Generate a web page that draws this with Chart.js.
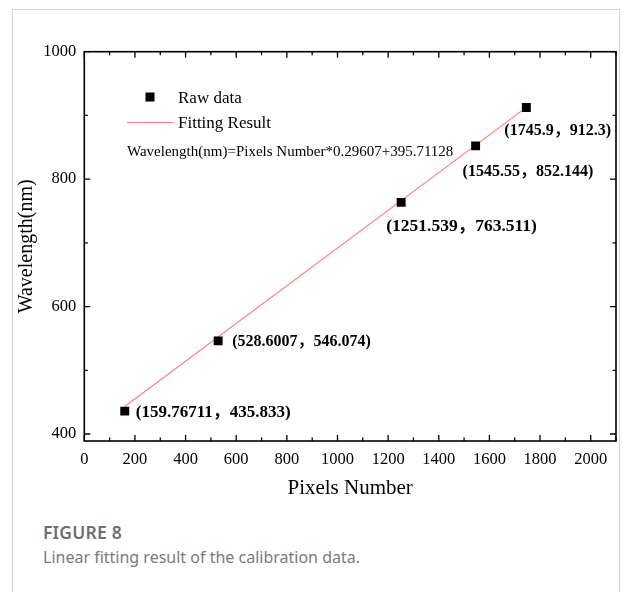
<!DOCTYPE html>
<html>
<head>
<meta charset="utf-8">
<script src="https://cdn.jsdelivr.net/npm/chart.js@4.4.0/dist/chart.umd.min.js"></script>
<style>
  html, body { margin: 0; padding: 0; background: #fff; }
  body { width: 625px; height: 592px; position: relative; overflow: hidden; }
  #card { position: absolute; left: 12px; top: 9px; width: 608px; height: 620px; border: 1px solid #d4d4d4; box-sizing: border-box; }
  #wrap { position: absolute; left: 0; top: 0; width: 625px; height: 510px; }
  #cap1 { position: absolute; left: 43px; top: 520px; font: 600 17.5px 'Noto Sans', 'Open Sans', sans-serif; color: #6e6e6e; letter-spacing: 0.2px; }
  #cap2 { position: absolute; left: 43px; top: 546px; font: 400 16px 'Noto Sans', 'Open Sans', sans-serif; color: #7a7a7a; }
</style>
</head>
<body>
<div id="card"></div>
<div id="wrap"><canvas id="c"></canvas></div>
<div id="cap1">FIGURE 8</div>
<div id="cap2">Linear fitting result of the calibration data.</div>
<script>
// ---- data ----
const pixelsNumber = [159.76711, 528.6007, 1251.539, 1545.55, 1745.9];
const wavelength   = [435.833, 546.074, 763.511, 852.144, 912.3];
const pointLabels  = ['(159.76711，435.833)', '(528.6007，546.074)', '(1251.539，763.511)', '(1545.55，852.144)', '(1745.9，912.3)'];
const fitX = [159.76711, 1745.9];
const fitY = [443.01, 912.62];
const xTicks = [0, 200, 400, 600, 800, 1000, 1200, 1400, 1600, 1800, 2000];
const yTicks = [400, 600, 800, 1000];
const seriesNames = ['Raw data', 'Fitting Result'];
const equationText = 'Wavelength(nm)=Pixels Number*0.29607+395.71128';

const SERIF = "Liberation Serif";
const SERIF_CJK = "'Liberation Serif', 'Noto Sans CJK SC'";

const framePlugin = {
  id: 'frame',
  afterDatasetsDraw(chart) {
    const {ctx, chartArea: a, scales: {x, y}} = chart;
    ctx.save();
    ctx.strokeStyle = '#000';
    ctx.lineWidth = 1.6;
    ctx.strokeRect(a.left, a.top, a.right - a.left, a.bottom - a.top);
    ctx.lineWidth = 1.3;
    ctx.beginPath();
    for (let v = 0; v <= 2100; v += 100) {
      const px = x.getPixelForValue(v);
      const len = (v % 200 === 0) ? 6 : 3.5;
      ctx.moveTo(px, a.bottom); ctx.lineTo(px, a.bottom - len);
      ctx.moveTo(px, a.top); ctx.lineTo(px, a.top + len);
    }
    for (let v = 400; v <= 1000; v += 100) {
      const py = y.getPixelForValue(v);
      const len = (v % 200 === 0) ? 6 : 3.5;
      ctx.moveTo(a.left, py); ctx.lineTo(a.left + len, py);
      ctx.moveTo(a.right, py); ctx.lineTo(a.right - len, py);
    }
    ctx.stroke();

    // legend
    const ds0 = chart.data.datasets[0], ds1 = chart.data.datasets[1];
    ctx.fillStyle = ds0.backgroundColor;
    ctx.fillRect(145.5, 92.5, 9, 9);
    ctx.strokeStyle = ds1.borderColor;
    ctx.lineWidth = ds1.borderWidth;
    ctx.beginPath(); ctx.moveTo(127, 122.5); ctx.lineTo(173, 122.5); ctx.stroke();
    ctx.fillStyle = '#000';
    ctx.textBaseline = 'middle';
    ctx.textAlign = 'left';
    ctx.font = '17px "' + SERIF + '"';
    ctx.fillText(ds0.label, 178, 98.5);
    ctx.fillText(ds1.label, 178, 124);
    ctx.font = '15px "' + SERIF + '"';
    ctx.fillText(equationText, 127, 152);

    // point labels
    const opts = chart.options.plugins.frame;
    const meta = chart.getDatasetMeta(0);
    meta.data.forEach((pt, i) => {
      const o = opts.offsets[i];
      ctx.font = 'bold ' + opts.sizes[i] + 'px ' + SERIF_CJK;
      ctx.fillText(pointLabels[i], pt.x + o[0], pt.y + o[1]);
    });
    ctx.restore();
  }
};

new Chart(document.getElementById('c'), {
  type: 'scatter',
  data: {
    datasets: [
      {
        label: seriesNames[0],
        data: pixelsNumber.map((v, i) => ({x: v, y: wavelength[i]})),
        pointStyle: 'rect',
        pointRadius: 6.3,
        pointHoverRadius: 6.3,
        backgroundColor: '#000',
        borderColor: '#000',
        borderWidth: 0,
        showLine: false
      },
      {
        label: seriesNames[1],
        type: 'line',
        data: fitX.map((v, i) => ({x: v, y: fitY[i]})),
        borderColor: '#ff7f7f',
        borderWidth: 1.2,
        pointRadius: 0,
        fill: false,
        showLine: true
      }
    ]
  },
  options: {
    responsive: true,
    maintainAspectRatio: false,
    animation: false,
    layout: { padding: { top: 51.7, right: 9, left: 0, bottom: 0 } },
    plugins: {
      legend: { display: false },
      tooltip: { enabled: false },
      frame: {
        offsets: [[11, 1], [14, 1], [-15, 24], [-13, 26], [-22, 23]],
        sizes: [17, 16, 17.5, 16, 16]
      }
    },
    scales: {
      x: {
        type: 'linear',
        min: 0, max: 2100,
        afterBuildTicks: s => { s.ticks = xTicks.map(v => ({value: v})); },
        afterFit: s => { s.height = 69; },
        grid: { display: false, drawTicks: false },
        border: { display: false },
        ticks: { font: { family: SERIF, size: 16.5 }, color: '#000', padding: 9, maxRotation: 0, autoSkip: false, callback: v => String(v) },
        title: { display: true, text: 'Pixels Number', font: { family: SERIF, size: 21 }, color: '#000', padding: { top: 0, bottom: 9 } }
      },
      y: {
        type: 'linear',
        min: 389, max: 1000,
        afterBuildTicks: s => { s.ticks = yTicks.map(v => ({value: v})); },
        afterFit: s => { s.width = 84.3; },
        grid: { display: false, drawTicks: false },
        border: { display: false },
        ticks: { font: { family: SERIF, size: 16.5 }, color: '#000', padding: 8, autoSkip: false, callback: v => String(v) },
        title: { display: true, text: 'Wavelength(nm)', font: { family: SERIF, size: 20 }, color: '#000', padding: { top: 15, bottom: 0 } }
      }
    }
  },
  plugins: [framePlugin]
});
</script>
</body>
</html>
